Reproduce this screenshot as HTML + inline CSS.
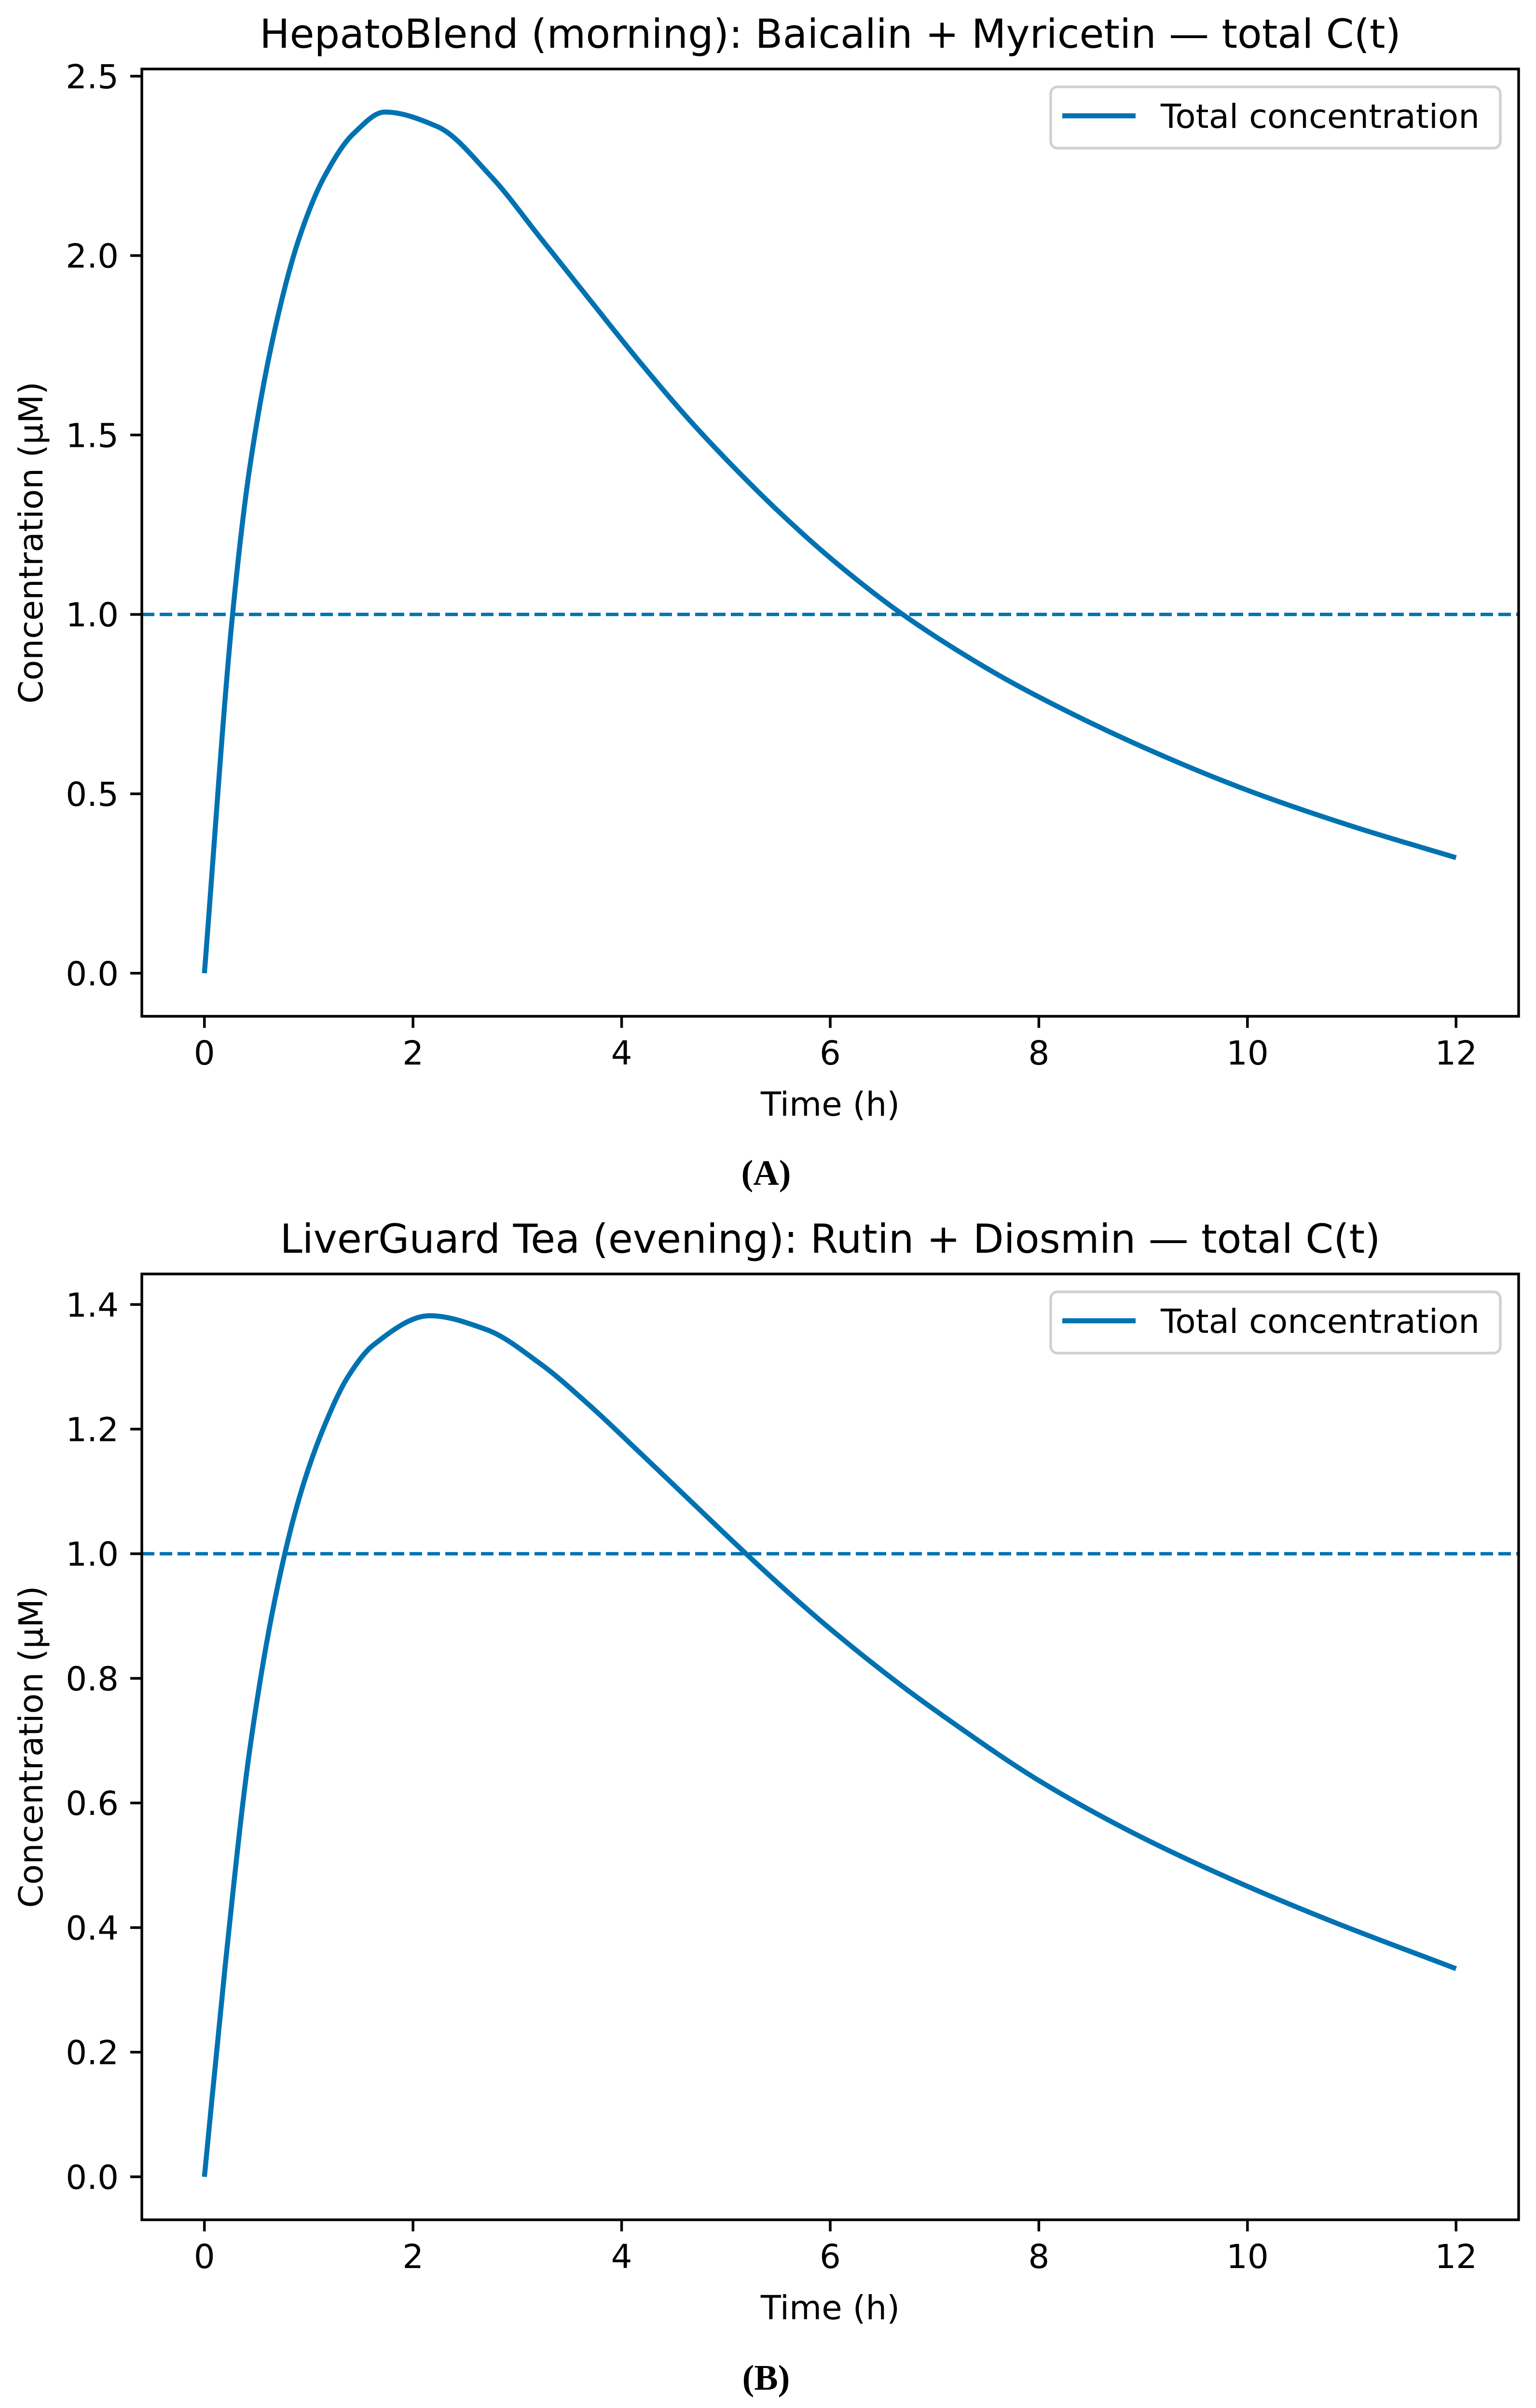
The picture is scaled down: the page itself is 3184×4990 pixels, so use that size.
<!DOCTYPE html>
<html><head><meta charset="utf-8"><style>
html,body{margin:0;padding:0;background:#fff}
svg{display:block}
text{font-family:"DejaVu Sans","Liberation Sans",sans-serif;fill:#000}
</style></head><body>
<svg id="fig" width="3184" height="4990" viewBox="0 0 3184 4990" xmlns="http://www.w3.org/2000/svg"></svg>
<script>
// Panel A data
const timesA = [0,0.27,0.43,0.68,0.91,1.15,1.43,1.73,2.23,2.75,3.22,3.70,4.17,4.64,5.11,5.53,6.01,6.67,7.5,8.0,9.0,10.0,11.0,12.0];
const concA  = [0,1.00,1.40,1.80,2.05,2.22,2.34,2.40,2.36,2.22,2.05,1.875,1.705,1.545,1.40,1.28,1.155,1.005,0.85,0.77,0.63,0.51,0.41,0.322];
// Panel B data
const timesB = [0,0.20,0.43,0.68,0.91,1.15,1.38,1.62,2.16,2.70,3.22,3.70,4.17,4.64,5.11,5.53,6.01,6.67,7.08,8.01,8.95,9.88,10.81,12.0];
const concB  = [0,0.34,0.68,0.93,1.09,1.205,1.285,1.335,1.382,1.36,1.305,1.237,1.163,1.088,1.013,0.948,0.878,0.79,0.74,0.635,0.548,0.475,0.41,0.334];
const thresholdA = 1.0;
const thresholdB = 1.0;
const xTicks = [0,2,4,6,8,10,12];
const yTicksA = [0.0,0.5,1.0,1.5,2.0,2.5];
const yTicksB = [0.0,0.2,0.4,0.6,0.8,1.0,1.2,1.4];

const NS="http://www.w3.org/2000/svg";
const svg=document.getElementById('fig');
const BLUE="#0072B2";
function mk(tag,attrs,parent){const e=document.createElementNS(NS,tag);for(const k in attrs)e.setAttribute(k,attrs[k]);(parent||svg).appendChild(e);return e;}

function monoPath(P){
  const n=P.length,dx=[],m=[],s=[];
  for(let i=0;i<n-1;i++){dx[i]=P[i+1][0]-P[i][0];s[i]=(P[i+1][1]-P[i][1])/dx[i];}
  m[0]=s[0];m[n-1]=s[n-2];
  for(let i=1;i<n-1;i++){
    if(s[i-1]*s[i]<=0)m[i]=0;
    else{const w1=2*dx[i]+dx[i-1],w2=dx[i]+2*dx[i-1];m[i]=(w1+w2)/(w1/s[i-1]+w2/s[i]);}
  }
  let d=`M${P[0][0]},${P[0][1]}`;
  for(let i=0;i<n-1;i++){
    const h=dx[i]/3;
    d+=` C${P[i][0]+h},${P[i][1]+m[i]*h} ${P[i+1][0]-h},${P[i+1][1]-m[i+1]*h} ${P[i+1][0]},${P[i+1][1]}`;
  }
  return d;
}

function panel(cfg){
  const g=mk('g',{});
  
  
  const L=294,R=3148,T=cfg.top,B=cfg.bottom;
  const xmin=-0.6,xmax=12.6;
  const sx=v=>L+(v-xmin)/(xmax-xmin)*(R-L);
  const sy=v=>B-(v-cfg.ymin)/(cfg.ymax-cfg.ymin)*(B-T);
  const th=mk('line',{x1:L,x2:R,y1:sy(cfg.thr),y2:sy(cfg.thr),stroke:BLUE,'stroke-width':7,'stroke-dasharray':'26 11'},g);
  
  
  const P=cfg.t.map((t,i)=>[sx(t),sy(cfg.c[i])]);
  const cv=mk('path',{d:monoPath(P),fill:'none',stroke:BLUE,'stroke-width':10.4,'stroke-linejoin':'round'},g);
  
  
  const fr=mk('rect',{x:L,y:T,width:R-L,height:B-T,fill:'none',stroke:'#000','stroke-width':5.5},g);
  
  
  xTicks.forEach(v=>{
    const x=sx(v);
    const tk=mk('line',{x1:x,x2:x,y1:B,y2:B+24,stroke:'#000','stroke-width':5.5},g);
    
    
    const tl=mk('text',{x:x,y:B+100,'font-size':69,'text-anchor':'middle'},g);
    tl.textContent=String(v);
    
    
  });
  cfg.yt.forEach(v=>{
    const y=sy(v);
    const tk=mk('line',{x1:L-24,x2:L,y1:y,y2:y,stroke:'#000','stroke-width':5.5},g);
    
    
    const tl=mk('text',{x:L-48,y:y+25,'font-size':69,'text-anchor':'end'},g);
    tl.textContent=v.toFixed(1);
    
    
  });
  const xl=mk('text',{x:(L+R)/2,y:B+206,'font-size':69,'text-anchor':'middle'},g);
  xl.textContent='Time (h)';
  
  
  const yc=(T+B)/2;
  const yl=mk('text',{x:0,y:0,'font-size':69,'text-anchor':'middle',transform:`translate(88,${yc}) rotate(-90)`},g);
  yl.textContent='Concentration (μM)';
  
  
  const ti=mk('text',{x:(L+R)/2,y:T-44,'font-size':83,'text-anchor':'middle'},g);
  ti.textContent=cfg.title;
  
  
  const lg=mk('g',{},g);
  
  
  const ly=T+cfg.legOff;
  mk('rect',{x:2178,y:ly,width:932,height:127,rx:14,fill:'#fff',stroke:'#d0d0d0','stroke-width':5.5},lg);
  mk('line',{x1:2202,x2:2354,y1:ly+60,y2:ly+60,stroke:BLUE,'stroke-width':10.4},lg);
  const lt=mk('text',{x:2406,y:ly+85,'font-size':69},lg);
  lt.textContent='Total concentration';
  
  
  const pl=mk('text',{x:1588,y:cfg.labelY,'font-size':74,'font-weight':'bold','text-anchor':'middle',style:'font-family:"Liberation Serif",serif'},g);
  pl.textContent=cfg.label;
  
  
}
panel({name:'panel-a',top:143,bottom:2106,ymin:-0.12,ymax:2.52,t:timesA,c:concA,thr:thresholdA,yt:yTicksA,
  title:'HepatoBlend (morning): Baicalin + Myricetin — total C(t)',legOff:37,label:'(A)',labelY:2455});
panel({name:'panel-b',top:2640,bottom:4600,ymin:-0.069,ymax:1.449,t:timesB,c:concB,thr:thresholdB,yt:yTicksB,
  title:'LiverGuard Tea (evening): Rutin + Diosmin — total C(t)',legOff:37,label:'(B)',labelY:4952});
</script>
</body></html>
